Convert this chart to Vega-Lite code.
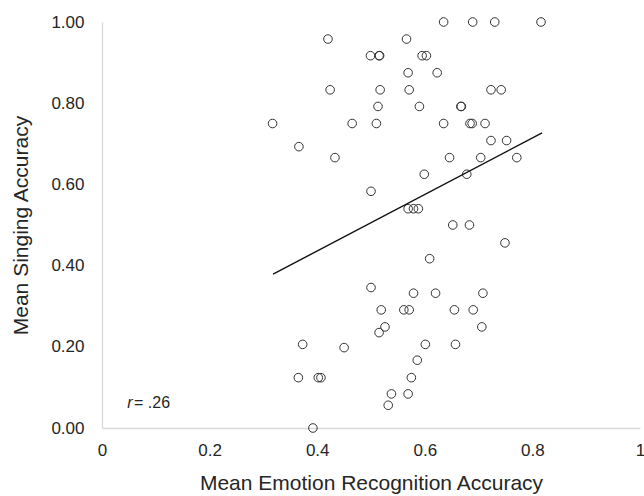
{
  "$schema": "https://vega.github.io/schema/vega-lite/v6.json",
  "width": 538,
  "height": 406,
  "autosize": {"type": "none"},
  "padding": {"left": 102, "top": 22, "right": 4, "bottom": 68},
  "background": "white",
  "config": {
    "view": {"stroke": null},
    "font": "Liberation Sans",
    "axis": {
      "grid": false,
      "ticks": false,
      "domainColor": "#d9d9d9",
      "domainWidth": 1.3,
      "labelFont": "Liberation Sans",
      "labelFontSize": 17,
      "labelColor": "#262626",
      "titleFont": "Liberation Sans",
      "titleFontSize": 21,
      "titleFontWeight": "normal",
      "titleColor": "#262626"
    }
  },
  "datasets": {
    "pts": [
      {"emotion": 0.635, "singing": 1.0}, {"emotion": 0.689, "singing": 1.0}, {"emotion": 0.730, "singing": 1.0}, {"emotion": 0.816, "singing": 1.0},
      {"emotion": 0.420, "singing": 0.958}, {"emotion": 0.566, "singing": 0.958},
      {"emotion": 0.499, "singing": 0.917}, {"emotion": 0.515, "singing": 0.917}, {"emotion": 0.516, "singing": 0.917}, {"emotion": 0.595, "singing": 0.917}, {"emotion": 0.603, "singing": 0.917},
      {"emotion": 0.569, "singing": 0.875}, {"emotion": 0.623, "singing": 0.875},
      {"emotion": 0.424, "singing": 0.833}, {"emotion": 0.517, "singing": 0.833}, {"emotion": 0.571, "singing": 0.833}, {"emotion": 0.723, "singing": 0.833}, {"emotion": 0.742, "singing": 0.833},
      {"emotion": 0.513, "singing": 0.792}, {"emotion": 0.590, "singing": 0.792}, {"emotion": 0.667, "singing": 0.792}, {"emotion": 0.668, "singing": 0.792},
      {"emotion": 0.317, "singing": 0.75}, {"emotion": 0.465, "singing": 0.75}, {"emotion": 0.510, "singing": 0.75}, {"emotion": 0.635, "singing": 0.75}, {"emotion": 0.684, "singing": 0.75}, {"emotion": 0.688, "singing": 0.75}, {"emotion": 0.712, "singing": 0.75},
      {"emotion": 0.723, "singing": 0.708}, {"emotion": 0.752, "singing": 0.708},
      {"emotion": 0.366, "singing": 0.693},
      {"emotion": 0.433, "singing": 0.666}, {"emotion": 0.646, "singing": 0.666}, {"emotion": 0.704, "singing": 0.666}, {"emotion": 0.771, "singing": 0.666},
      {"emotion": 0.599, "singing": 0.625}, {"emotion": 0.678, "singing": 0.625},
      {"emotion": 0.500, "singing": 0.583},
      {"emotion": 0.569, "singing": 0.54}, {"emotion": 0.579, "singing": 0.54}, {"emotion": 0.588, "singing": 0.54},
      {"emotion": 0.652, "singing": 0.5}, {"emotion": 0.683, "singing": 0.5},
      {"emotion": 0.749, "singing": 0.456},
      {"emotion": 0.609, "singing": 0.417},
      {"emotion": 0.500, "singing": 0.346},
      {"emotion": 0.579, "singing": 0.332}, {"emotion": 0.620, "singing": 0.332}, {"emotion": 0.708, "singing": 0.332},
      {"emotion": 0.519, "singing": 0.291}, {"emotion": 0.561, "singing": 0.291}, {"emotion": 0.571, "singing": 0.291}, {"emotion": 0.655, "singing": 0.291}, {"emotion": 0.690, "singing": 0.291},
      {"emotion": 0.526, "singing": 0.249}, {"emotion": 0.706, "singing": 0.249},
      {"emotion": 0.515, "singing": 0.235},
      {"emotion": 0.373, "singing": 0.206}, {"emotion": 0.601, "singing": 0.206}, {"emotion": 0.657, "singing": 0.206},
      {"emotion": 0.450, "singing": 0.198},
      {"emotion": 0.586, "singing": 0.167},
      {"emotion": 0.365, "singing": 0.124}, {"emotion": 0.402, "singing": 0.124}, {"emotion": 0.407, "singing": 0.124}, {"emotion": 0.575, "singing": 0.124},
      {"emotion": 0.538, "singing": 0.084}, {"emotion": 0.569, "singing": 0.084},
      {"emotion": 0.532, "singing": 0.056},
      {"emotion": 0.392, "singing": 0.0}
    ],
    "fit": [
      {"emotion": 0.318, "singing": 0.379},
      {"emotion": 0.818, "singing": 0.727}
    ],
    "note": [
      {"emotion": 0.047, "singing": 0.062, "t1": "r", "t2": "= .26", "e2": 0.0595}
    ]
  },
  "layer": [
    {
      "data": {"name": "pts"},
      "mark": {"type": "point", "shape": "circle", "filled": false, "size": 74, "stroke": "#333333", "strokeWidth": 1, "opacity": 1},
      "encoding": {
        "x": {
          "field": "emotion", "type": "quantitative",
          "scale": {"domain": [0, 1], "nice": false, "zero": true},
          "axis": {"title": "Mean Emotion Recognition Accuracy", "values": [0, 0.2, 0.4, 0.6, 0.8, 1], "format": "~g", "labelPadding": 14, "titlePadding": 14, "labelFlush": false}
        },
        "y": {
          "field": "singing", "type": "quantitative",
          "scale": {"domain": [0, 1], "nice": false},
          "axis": {"title": "Mean Singing Accuracy", "values": [0, 0.2, 0.4, 0.6, 0.8, 1], "format": ".2f", "labelPadding": 18, "titlePadding": 19}
        }
      }
    },
    {
      "data": {"name": "fit"},
      "mark": {"type": "line", "color": "#111111", "strokeWidth": 1.4},
      "encoding": {
        "x": {"field": "emotion", "type": "quantitative"},
        "y": {"field": "singing", "type": "quantitative"}
      }
    },
    {
      "data": {"name": "note"},
      "mark": {"type": "text", "align": "left", "baseline": "middle", "fontSize": 16, "fontStyle": "italic", "color": "#262626"},
      "encoding": {
        "x": {"field": "emotion", "type": "quantitative"},
        "y": {"field": "singing", "type": "quantitative"},
        "text": {"field": "t1"}
      }
    },
    {
      "data": {"name": "note"},
      "mark": {"type": "text", "align": "left", "baseline": "middle", "fontSize": 16, "color": "#262626"},
      "encoding": {
        "x": {"field": "e2", "type": "quantitative"},
        "y": {"field": "singing", "type": "quantitative"},
        "text": {"field": "t2"}
      }
    }
  ]
}
